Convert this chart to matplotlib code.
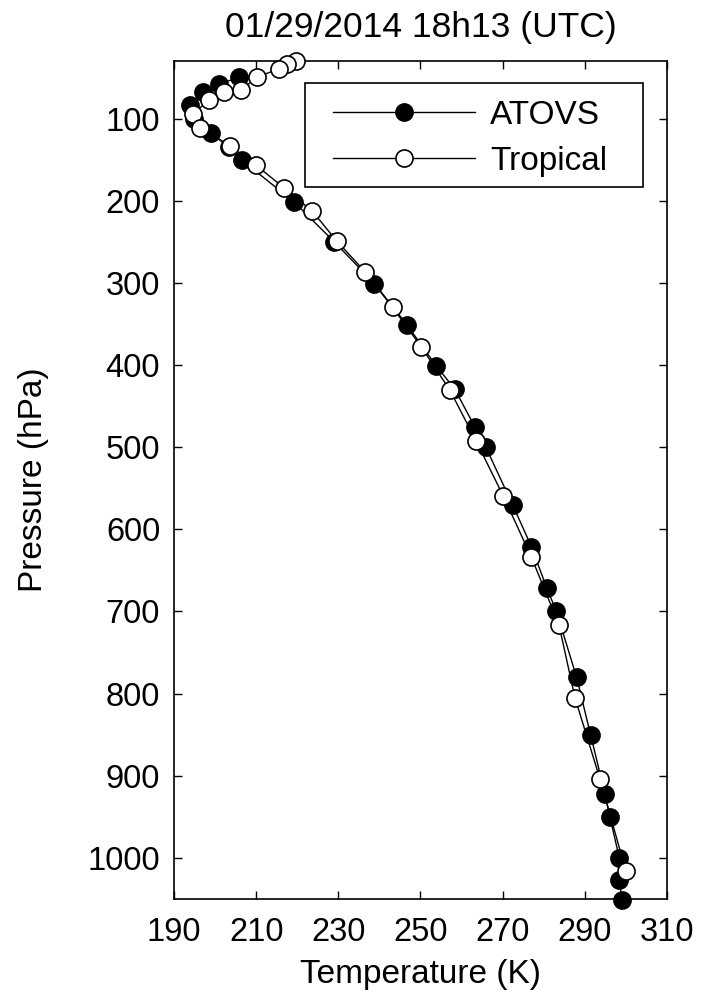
import matplotlib
matplotlib.use("Agg")
import matplotlib.pyplot as plt
from matplotlib.patches import Rectangle

plt.rcParams['font.family'] = ['Liberation Sans', 'DejaVu Sans']

# ATOVS retrieval (filled circles)
atovs_p = [50, 58, 68, 84, 100, 117, 135, 151, 201, 250, 301, 351, 401, 429,
           475, 500, 571, 621, 671, 700, 780, 850, 922, 950, 1000, 1027, 1051]
atovs_t = [205.8, 200.9, 197.1, 194.0, 194.8, 198.9, 203.3, 206.6, 219.1, 229.0,
           238.8, 246.7, 253.8, 258.3, 263.2, 265.9, 272.5, 277.0, 280.7, 283.1,
           288.0, 291.4, 294.9, 296.1, 298.4, 298.4, 299.0]

# Tropical reference profile (open circles)
trop_p = [29.4, 33.4, 39.5, 49.7, 65, 68, 78, 94, 111, 133, 157, 184, 213, 249,
          287, 330, 378, 431, 493, 560, 634, 716, 805, 904, 1016]
trop_t = [219.6, 217.6, 215.5, 210.2, 206.4, 202.1, 198.5, 194.6, 196.4, 203.6,
          210.0, 216.7, 223.7, 229.6, 236.6, 243.2, 250.2, 257.2, 263.6, 270.2,
          277.0, 283.7, 287.6, 293.7, 300.0]

fig = plt.figure(figsize=(7.04, 9.99), dpi=100)
ax = fig.add_axes([0.2472, 0.1001, 0.7002, 0.8388])

ax.plot(atovs_t, atovs_p, '-o', color='black', lw=1.0, ms=12.3,
        mfc='black', mec='black', mew=1.2, clip_on=False, label='ATOVS', zorder=3)
ax.plot(trop_t, trop_p, '-o', color='black', lw=1.0, ms=12.3,
        mfc='white', mec='black', mew=1.2, clip_on=False, label='Tropical', zorder=4)

ax.set_xlim(190, 310)
ax.set_ylim(1050, 30)
ax.set_xticks(range(190, 311, 20))
ax.set_yticks(range(100, 1001, 100))
ax.tick_params(direction='in', length=6, width=1.0, top=True, right=True,
               labelsize=23.5)
ax.tick_params(axis='x', pad=13)
ax.tick_params(axis='y', pad=10)
for s in ax.spines.values():
    s.set_linewidth(1.2)

ax.set_xlabel('Temperature (K)', fontsize=24, labelpad=8)
ax.set_ylabel('Pressure (hPa)', fontsize=24, labelpad=28)
ax.set_title('01/29/2014 18h13 (UTC)', fontsize=25.5, pad=17)

# legend box drawn separately so it keeps the reference proportions
box = Rectangle((0.266, 0.850), 0.685, 0.124, transform=ax.transAxes,
                facecolor='white', edgecolor='black', lw=1.2, zorder=5)
ax.add_patch(box)
leg = ax.legend(loc='center left', bbox_to_anchor=(0.323, 0.908), borderaxespad=0,
                fontsize=24, handlelength=4.25, handletextpad=0.45, labelspacing=0.45,
                borderpad=0, frameon=False)
leg.set_zorder(6)

fig.savefig('out.png', dpi=100)
